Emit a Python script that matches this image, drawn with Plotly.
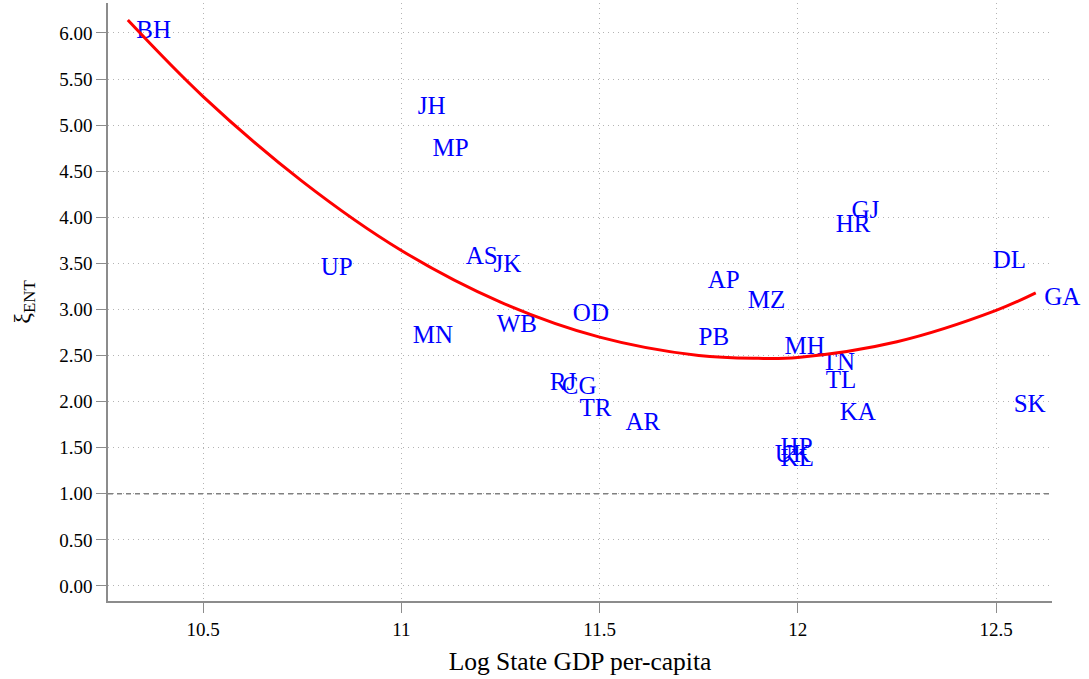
import plotly.graph_objects as go

states = ["BH", "JH", "MP", "UP", "AS", "JK", "MN", "WB", "OD", "RJ", "CG", "TR", "AR",
          "AP", "MZ", "PB", "MH", "TN", "TL", "KA", "GJ", "HR", "DL", "GA", "SK",
          "HP", "UK", "KL"]
log_gdp = [10.31, 11.02, 11.057, 10.775, 11.141, 11.211, 11.007, 11.219, 11.411, 11.353, 11.383, 11.428, 11.544,
           11.751, 11.852, 11.728, 11.945, 12.039, 12.049, 12.084, 12.114, 12.074, 12.47, 12.60, 12.523,
           11.935, 11.92, 11.935]
xi_ent = [6.01, 5.19, 4.73, 3.44, 3.56, 3.47, 2.70, 2.82, 2.94, 2.19, 2.15, 1.91, 1.76,
          3.30, 3.08, 2.68, 2.58, 2.41, 2.22, 1.87, 4.06, 3.91, 3.52, 3.12, 1.95,
          1.49, 1.41, 1.37]

# quadratic fit line
fit_x = [10.31, 10.5, 10.75, 11.0, 11.25, 11.5, 11.75, 11.9, 12.0, 12.25, 12.5, 12.60]
fit_y = [6.14, 5.31, 4.39, 3.64, 3.08, 2.70, 2.50, 2.47, 2.48, 2.65, 2.99, 3.18]

x_ticks = [10.5, 11, 11.5, 12, 12.5]
x_tick_labels = ["10.5", "11", "11.5", "12", "12.5"]
y_ticks = [0, 0.5, 1, 1.5, 2, 2.5, 3, 3.5, 4, 4.5, 5, 5.5, 6]
y_tick_labels = ["%.2f" % v for v in y_ticks]
ref_line = 1.0

FONT = "Liberation Serif, Times New Roman, serif"

fig = go.Figure()
fig.add_trace(go.Scatter(
    x=log_gdp, y=xi_ent, mode="markers+text", text=states, textposition="middle right",
    textfont=dict(family=FONT, size=25, color="#0000FF"),
    marker=dict(size=12, color="rgba(0,0,0,0)"), cliponaxis=False,
    showlegend=False, hoverinfo="x+y+text"))
fig.add_trace(go.Scatter(
    x=fit_x, y=fit_y, mode="lines", line=dict(color="#FF0000", width=3, shape="spline"),
    showlegend=False))
fig.add_shape(type="line", xref="paper", x0=0, x1=1, yref="y", y0=ref_line, y1=ref_line,
              line=dict(color="#808080", width=1.5, dash="5px,4px"))

axis_common = dict(showline=True, linecolor="#8c8c8c", linewidth=1.5, ticks="outside",
                   tickcolor="#8c8c8c", ticklen=10, tickwidth=1, zeroline=False,
                   showgrid=True, gridcolor="#b4b4b4", gridwidth=1, griddash="1px,4px",
                   tickfont=dict(family=FONT, size=19, color="#000000"))

fig.update_xaxes(range=[10.26, 12.641], tickvals=x_ticks, ticktext=x_tick_labels,
                 title=dict(text="Log State GDP per-capita",
                            font=dict(family=FONT, size=25.5, color="#000000"), standoff=14),
                 **axis_common)
fig.update_yaxes(range=[-0.163, 6.325], tickvals=y_ticks, ticktext=y_tick_labels,
                 title=dict(text="ξ<sub>ENT</sub>", font=dict(family=FONT, size=24, color="#000000"),
                            standoff=22),
                 **axis_common)

fig.update_layout(width=1089, height=679, plot_bgcolor="white", paper_bgcolor="white",
                  margin=dict(l=108, r=37, t=3, b=78))

fig.write_html("out.html", config={"displayModeBar": False},
               post_script="document.body.style.margin='0';")
